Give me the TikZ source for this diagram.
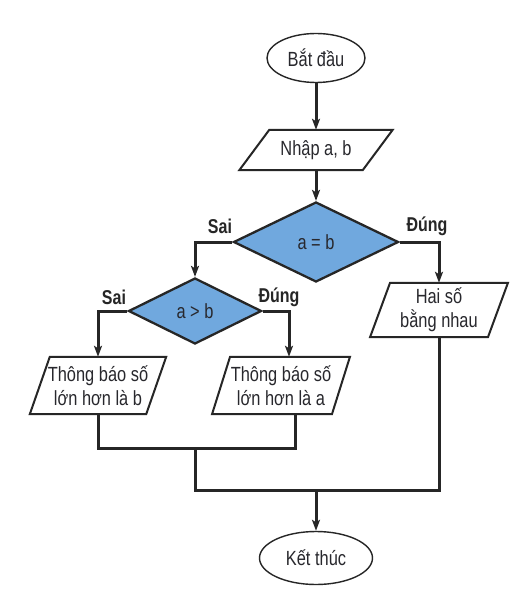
\documentclass[tikz,border=0pt]{standalone}
\usepackage{fontspec}
\setmainfont[FakeStretch=0.8]{Liberation Sans}
\usetikzlibrary{shapes.geometric,arrows.meta}
\definecolor{dfill}{RGB}{112,168,222}
\definecolor{txt}{RGB}{40,40,45}
\newcommand\pgram[2]{\draw[pline] ([xshift=#2]#1.north west) -- ([xshift=#2]#1.north east) -- ([xshift=-#2]#1.south east) -- ([xshift=-#2]#1.south west) -- cycle;}
\begin{document}
\begin{tikzpicture}[x=1pt,y=-1pt,
  nfont/.style={font=\fontsize{20.5}{24}\selectfont, text=txt},
  term/.style={ellipse, draw=black!85, line width=1.4pt, inner sep=0pt, nfont},
  io/.style={rectangle, draw=none, inner sep=0pt, align=center, nfont},
  pline/.style={draw=black!85, line width=2pt, line join=miter},
  dec/.style={diamond, draw=black!85, line width=2.3pt, fill=dfill, inner sep=0pt, nfont},
  conn/.style={line width=3pt, draw=black!85, line join=miter},
  arr/.style={conn, -{Stealth[length=11pt,width=8pt,inset=2.5pt]}},
  lab/.style={font=\bfseries\fontsize{20}{24}\selectfont, text=black!85}]
\fill[white] (0,0) rectangle (517,604);
\useasboundingbox (0,0) rectangle (517,604);

\node[term, minimum width=98pt, minimum height=49pt] (start) at (316,58) {Bắt đầu};
\node[io, minimum width=123pt, minimum height=40pt] (inp) at (316,150) {Nhập a, b};
\pgram{inp}{15pt}
\node[dec, minimum width=165pt, minimum height=80pt] (d1) at (316,242) {a = b};
\node[dec, minimum width=133pt, minimum height=66pt] (d2) at (195,311) {a > b};
\node[io, minimum width=117.5pt, minimum height=54pt] (eq) at (439,310) {Hai số\\bằng nhau};
\pgram{eq}{10pt}
\node[io, minimum width=116pt, minimum height=57pt] (msgB) at (98,385.5) {Thông báo số\\lớn hơn là b};
\pgram{msgB}{10pt}
\node[io, minimum width=119.5pt, minimum height=57pt] (msgA) at (281,385.5) {Thông báo số\\lớn hơn là a};
\pgram{msgA}{9pt}
\node[term, minimum width=113pt, minimum height=53pt] (end) at (316,558) {Kết thúc};

\coordinate (j1) at (195,448);
\coordinate (j2) at (316,490);

\node[lab] (l1) at (220,226) {Sai};
\node[lab] (l2) at (427,226) {Đúng};
\node[lab] (l3) at (114,297) {Sai};
\node[lab] (l4) at (279,297) {Đúng};

\draw[arr] (start) -- (inp);
\draw[arr] (inp.south) -- (d1.north);
\draw[arr] (d1.west) -| (d2.north);
\draw[arr] (d1.east) -| (eq.north);
\draw[arr] (d2.west) -| (msgB.north);
\draw[arr] (d2.east) -| ([xshift=8pt]msgA.north);
\draw[conn] (msgB.south) |- (j1);
\draw[conn] ([xshift=14pt]msgA.south) |- (j1);
\draw[conn] (j1) |- (j2);
\draw[conn] (eq.south) |- (j2);
\draw[arr] (j2) -- (end);
\end{tikzpicture}
\end{document}
